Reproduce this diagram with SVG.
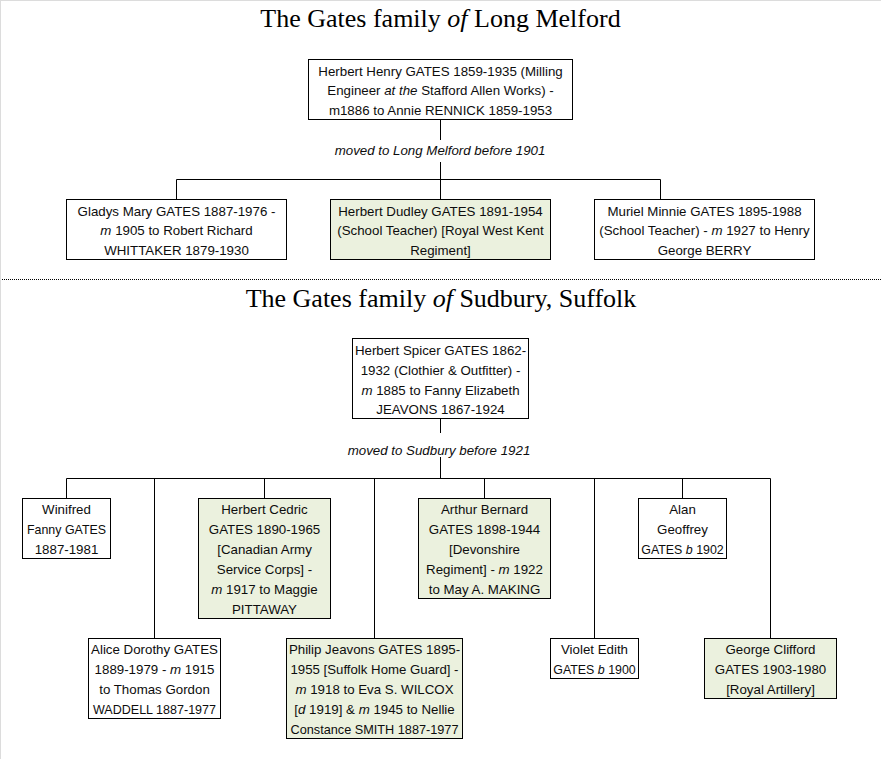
<svg xmlns="http://www.w3.org/2000/svg" width="881" height="759" viewBox="0 0 881 759">
<style>
.t{font-family:"Liberation Serif","Times New Roman",serif;font-size:26px;fill:#000;text-anchor:middle}
.n{font-family:"Liberation Sans",Arial,sans-serif;font-size:13.3px;fill:#0d0d0d;text-anchor:middle}
.s{font-size:12.4px}
.lb{font-family:"Liberation Sans",Arial,sans-serif;font-size:13.3px;font-style:italic;fill:#0d0d0d;text-anchor:middle}
.i{font-style:italic}
.b{fill:#fff;stroke:#000;stroke-width:1}
.g{fill:#ebf1de;stroke:#000;stroke-width:1}
.c{fill:none;stroke:#000;stroke-width:1}
</style>
<rect x="0" y="0" width="881" height="759" fill="#fff"/>
<path d="M0.5,0 V759 M0,0.5 H881" stroke="#dcdcdc" stroke-width="1"/>

<text class="t" x="440.5" y="27">The Gates family <tspan class="i">of</tspan> Long Melford</text>
<text class="t" x="441" y="307">The Gates family <tspan class="i">of</tspan> Sudbury, Suffolk</text>

<line x1="2" y1="279.5" x2="881" y2="279.5" stroke="#000" stroke-width="1" stroke-dasharray="1 1"/>

<g id="connectors">
<path class="c" d="M440.5,119.5 V140 M440.5,162 V179.5 M176.5,199.5 V179.5 H660.5 V199.5 M440.5,179.5 V199.5"/>
<path class="c" d="M440.5,418.5 V433 M440.5,457 V478.5 M66.5,498.5 V478.5 H770.5 V638.5 M154.5,478.5 V638.5 M264.5,478.5 V498.5 M374.5,478.5 V638.5 M484.5,478.5 V498.5 M594.5,478.5 V638.5 M682.5,478.5 V498.5"/>
<text class="lb" x="440" y="155">moved to Long Melford before 1901</text>
<text class="lb" x="439" y="455">moved to Sudbury before 1921</text>
</g>

<g id="herbert-henry">
<rect class="b" x="308.5" y="59.5" width="264" height="60"/>
<text class="n" x="440.5" y="75.5">Herbert Henry GATES 1859-1935 (Milling</text>
<text class="n" x="440.5" y="95">Engineer <tspan class="i">at the</tspan> Stafford Allen Works) -</text>
<text class="n" x="440.5" y="114.5">m1886 to Annie RENNICK 1859-1953</text>
</g>

<g id="gladys">
<rect class="b" x="66.5" y="199.5" width="220" height="60"/>
<text class="n" x="176.5" y="215.5">Gladys Mary GATES 1887-1976 -</text>
<text class="n" x="176.5" y="235"><tspan class="i">m</tspan> 1905 to Robert Richard</text>
<text class="n" x="176.5" y="254.5">WHITTAKER 1879-1930</text>
</g>

<g id="herbert-dudley">
<rect class="g" x="330.5" y="199.5" width="220" height="60"/>
<text class="n" x="440.5" y="215.5">Herbert Dudley GATES 1891-1954</text>
<text class="n" x="440.5" y="235">(School Teacher) [Royal West Kent</text>
<text class="n" x="440.5" y="254.5">Regiment]</text>
</g>

<g id="muriel">
<rect class="b" x="594.5" y="199.5" width="220" height="60"/>
<text class="n" x="704.5" y="215.5">Muriel Minnie GATES 1895-1988</text>
<text class="n" x="704.5" y="235">(School Teacher) - <tspan class="i">m</tspan> 1927 to Henry</text>
<text class="n" x="704.5" y="254.5">George BERRY</text>
</g>

<g id="herbert-spicer">
<rect class="b" x="352.5" y="338.5" width="176" height="80"/>
<text class="n" x="440.5" y="354.5">Herbert Spicer GATES 1862-</text>
<text class="n" x="440.5" y="374.5">1932 (Clothier &amp; Outfitter) -</text>
<text class="n" x="440.5" y="394.5"><tspan class="i">m</tspan> 1885 to Fanny Elizabeth</text>
<text class="n" x="440.5" y="414">JEAVONS 1867-1924</text>
</g>

<g id="winifred">
<rect class="b" x="22.5" y="498.5" width="88" height="60"/>
<text class="n" x="66.5" y="514">Winifred</text>
<text class="n s" x="66.5" y="534">Fanny GATES</text>
<text class="n" x="66.5" y="554">1887-1981</text>
</g>

<g id="herbert-cedric">
<rect class="g" x="198.5" y="498.5" width="132" height="120"/>
<text class="n" x="264.5" y="514">Herbert Cedric</text>
<text class="n" x="264.5" y="534">GATES 1890-1965</text>
<text class="n" x="264.5" y="554">[Canadian Army</text>
<text class="n" x="264.5" y="574">Service Corps] -</text>
<text class="n" x="264.5" y="594"><tspan class="i">m</tspan> 1917 to Maggie</text>
<text class="n" x="264.5" y="614">PITTAWAY</text>
</g>

<g id="arthur">
<rect class="g" x="418.5" y="498.5" width="132" height="100"/>
<text class="n" x="484.5" y="514">Arthur Bernard</text>
<text class="n" x="484.5" y="534">GATES 1898-1944</text>
<text class="n" x="484.5" y="554">[Devonshire</text>
<text class="n" x="484.5" y="574">Regiment] - <tspan class="i">m</tspan> 1922</text>
<text class="n" x="484.5" y="594">to May A. MAKING</text>
</g>

<g id="alan">
<rect class="b" x="638.5" y="498.5" width="88" height="60"/>
<text class="n" x="682.5" y="514">Alan</text>
<text class="n" x="682.5" y="534">Geoffrey</text>
<text class="n s" x="682.5" y="554">GATES <tspan class="i">b</tspan> 1902</text>
</g>

<g id="alice">
<rect class="b" x="88.5" y="638.5" width="132" height="80"/>
<text class="n" x="154.5" y="654">Alice Dorothy GATES</text>
<text class="n" x="154.5" y="674">1889-1979 - <tspan class="i">m</tspan> 1915</text>
<text class="n" x="154.5" y="694">to Thomas Gordon</text>
<text class="n" x="154.5" y="714" textLength="123" lengthAdjust="spacingAndGlyphs">WADDELL 1887-1977</text>
</g>

<g id="philip">
<rect class="g" x="286.5" y="638.5" width="176" height="100"/>
<text class="n" x="374.5" y="654">Philip Jeavons GATES 1895-</text>
<text class="n" x="374.5" y="674" textLength="168" lengthAdjust="spacingAndGlyphs">1955 [Suffolk Home Guard] -</text>
<text class="n" x="374.5" y="694"><tspan class="i">m</tspan> 1918 to Eva S. WILCOX</text>
<text class="n" x="374.5" y="714">[<tspan class="i">d</tspan> 1919] &amp; <tspan class="i">m</tspan> 1945 to Nellie</text>
<text class="n" x="374.5" y="734" textLength="168" lengthAdjust="spacingAndGlyphs">Constance SMITH 1887-1977</text>
</g>

<g id="violet">
<rect class="b" x="550.5" y="638.5" width="88" height="40"/>
<text class="n" x="594.5" y="654">Violet Edith</text>
<text class="n s" x="594.5" y="674">GATES <tspan class="i">b</tspan> 1900</text>
</g>

<g id="george">
<rect class="g" x="704.5" y="638.5" width="132" height="60"/>
<text class="n" x="770.5" y="654">George Clifford</text>
<text class="n" x="770.5" y="674">GATES 1903-1980</text>
<text class="n" x="770.5" y="694">[Royal Artillery]</text>
</g>
</svg>
